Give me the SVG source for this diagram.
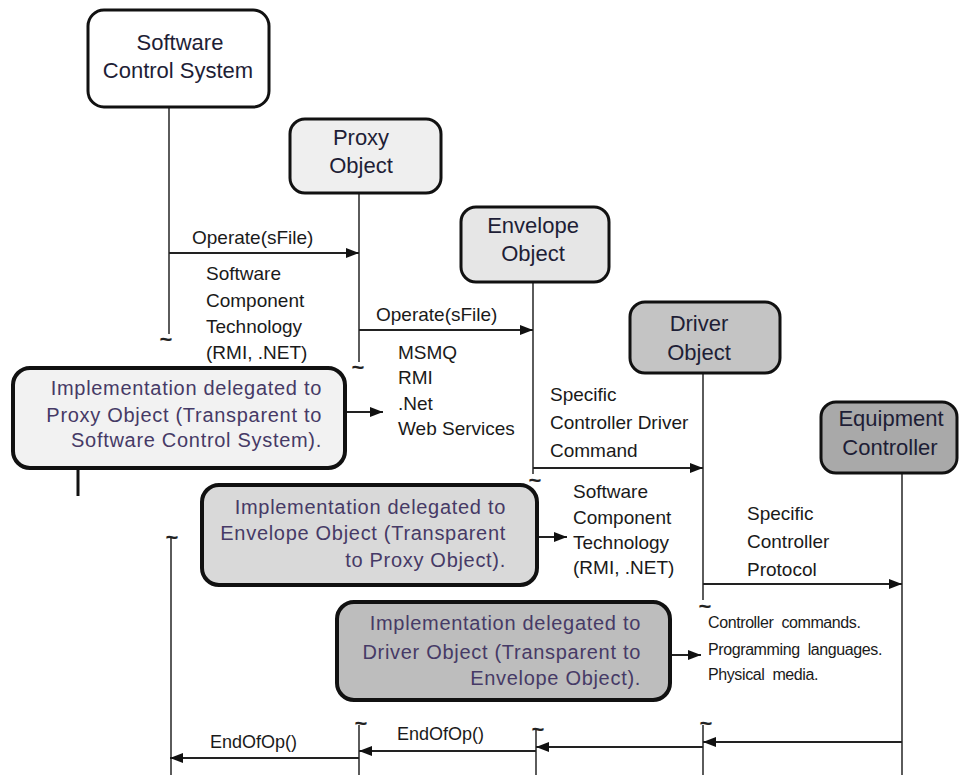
<svg xmlns="http://www.w3.org/2000/svg" width="960" height="775" viewBox="0 0 960 775">
<style>
.bg{fill:#ffffff}
.node{stroke:#111;stroke-width:3}
.nl{font-family:"Liberation Sans",Arial,sans-serif;font-size:22px;fill:#1e1e36;text-anchor:middle}
.impl{stroke:#111;stroke-width:4}
.it{font-family:"Liberation Sans",Arial,sans-serif;font-size:20px;letter-spacing:0.7px;fill:#463a66;text-anchor:end}
.lbl{font-family:"Liberation Sans",Arial,sans-serif;font-size:19px;fill:#1a1a1a}
.sm{font-family:"Liberation Sans",Arial,sans-serif;font-size:16px;fill:#1a1a1a;word-spacing:4px;letter-spacing:-0.4px}
.life{stroke:#333;stroke-width:1.6;fill:none}
.arr{stroke:#222;stroke-width:2;fill:none;marker-end:url(#ah)}
.tl{font-family:"Liberation Sans",Arial,sans-serif;font-size:22px;font-weight:bold;fill:#222;text-anchor:middle}
</style>
<defs>
<marker id="ah" markerUnits="userSpaceOnUse" markerWidth="14" markerHeight="12" refX="13" refY="5" orient="auto">
<path d="M0,0 L13,5 L0,10 Z" fill="#111"/>
</marker>
</defs>
<rect class="bg" x="0" y="0" width="960" height="775"/>

<g id="connectors">
<line class="life" x1="169" y1="107" x2="169" y2="334"/>
<line class="life" x1="359" y1="193" x2="359" y2="362"/>
<line class="life" x1="533" y1="282" x2="533" y2="474"/>
<line class="life" x1="703" y1="373" x2="703" y2="600"/>
<line class="life" x1="902" y1="473" x2="902" y2="775"/>
<line class="life" x1="171" y1="538" x2="171" y2="775"/>
<line class="life" x1="359" y1="725" x2="359" y2="775"/>
<line class="life" x1="536" y1="730" x2="536" y2="775"/>
<line class="life" x1="703" y1="725" x2="703" y2="775"/>
<line x1="78" y1="468" x2="78" y2="496" stroke="#111" stroke-width="3"/>
<text class="tl" x="166" y="347">~</text>
<text class="tl" x="358" y="375">~</text>
<text class="tl" x="535" y="488">~</text>
<text class="tl" x="705" y="614">~</text>
<text class="tl" x="172" y="545">~</text>
<text class="tl" x="361" y="731">~</text>
<text class="tl" x="538" y="737">~</text>
<text class="tl" x="706" y="731">~</text>
<line class="arr" x1="169" y1="253" x2="359" y2="253"/>
<line class="arr" x1="359" y1="330" x2="533" y2="330"/>
<line class="arr" x1="533" y1="468" x2="703" y2="468"/>
<line class="arr" x1="703" y1="584" x2="902" y2="584"/>
<line class="arr" x1="347" y1="412" x2="383" y2="412"/>
<line class="arr" x1="539" y1="537" x2="567" y2="537"/>
<line class="arr" x1="672" y1="655" x2="701" y2="655"/>
<line class="arr" x1="902" y1="742" x2="703" y2="742"/>
<line class="arr" x1="703" y1="747" x2="536" y2="747"/>
<line class="arr" x1="536" y1="751" x2="359" y2="751"/>
<line class="arr" x1="359" y1="758" x2="170" y2="758"/>
<text class="lbl" x="192" y="244">Operate(sFile)</text>
<text class="lbl" x="206" y="280">Software</text>
<text class="lbl" x="206" y="307">Component</text>
<text class="lbl" x="206" y="333">Technology</text>
<text class="lbl" x="206" y="359">(RMI, .NET)</text>
<text class="lbl" x="376" y="321">Operate(sFile)</text>
<text class="lbl" x="398" y="359">MSMQ</text>
<text class="lbl" x="398" y="384">RMI</text>
<text class="lbl" x="398" y="410">.Net</text>
<text class="lbl" x="398" y="435">Web Services</text>
<text class="lbl" x="550" y="401">Specific</text>
<text class="lbl" x="550" y="429">Controller Driver</text>
<text class="lbl" x="550" y="457">Command</text>
<text class="lbl" x="573" y="498">Software</text>
<text class="lbl" x="573" y="524">Component</text>
<text class="lbl" x="573" y="549">Technology</text>
<text class="lbl" x="573" y="574">(RMI, .NET)</text>
<text class="lbl" x="747" y="520">Specific</text>
<text class="lbl" x="747" y="548">Controller</text>
<text class="lbl" x="747" y="576">Protocol</text>
<text class="sm" x="708" y="628">Controller commands.</text>
<text class="sm" x="708" y="655">Programming languages.</text>
<text class="sm" x="708" y="680">Physical media.</text>
<text class="lbl" x="210" y="748" style="font-size:18px">EndOfOp()</text>
<text class="lbl" x="397" y="740" style="font-size:18px">EndOfOp()</text>
</g>

<g id="scs">
<rect class="node" x="88" y="10" width="181" height="97" rx="16" fill="#ffffff"/>
<text class="nl" x="180" y="50">Software</text>
<text class="nl" x="178" y="78">Control System</text>
</g>
<g id="proxy">
<rect class="node" x="290" y="119" width="151" height="74" rx="15" fill="#efefef"/>
<text class="nl" x="361" y="145">Proxy</text>
<text class="nl" x="361" y="173">Object</text>
</g>
<g id="envelope">
<rect class="node" x="461" y="207" width="148" height="75" rx="15" fill="#e6e6e6"/>
<text class="nl" x="533" y="233">Envelope</text>
<text class="nl" x="533" y="261">Object</text>
</g>
<g id="driver">
<rect class="node" x="630" y="302" width="150" height="71" rx="15" fill="#c4c4c4"/>
<text class="nl" x="699" y="331">Driver</text>
<text class="nl" x="699" y="360">Object</text>
</g>
<g id="equipment">
<rect class="node" x="821" y="402" width="136" height="71" rx="15" fill="#a9a9a9"/>
<text class="nl" x="891" y="426">Equipment</text>
<text class="nl" x="890" y="455">Controller</text>
</g>
<g id="impl-proxy">
<rect class="impl" x="13" y="368" width="332" height="100" rx="17" fill="#f2f2f2"/>
<text class="it" x="322" y="395">Implementation delegated to</text>
<text class="it" x="322" y="422">Proxy Object (Transparent  to</text>
<text class="it" x="322" y="447">Software Control System).</text>
</g>
<g id="impl-envelope">
<rect class="impl" x="202" y="485" width="335" height="100" rx="17" fill="#d9d9d9"/>
<text class="it" x="506" y="514">Implementation delegated to</text>
<text class="it" x="506" y="540">Envelope Object (Transparent</text>
<text class="it" x="506" y="567">to Proxy Object).</text>
</g>
<g id="impl-driver">
<rect class="impl" x="337" y="602" width="333" height="98" rx="17" fill="#bdbdbd"/>
<text class="it" x="641" y="630">Implementation delegated to</text>
<text class="it" x="641" y="659">Driver Object (Transparent  to</text>
<text class="it" x="641" y="685">Envelope Object).</text>
</g>
</svg>
